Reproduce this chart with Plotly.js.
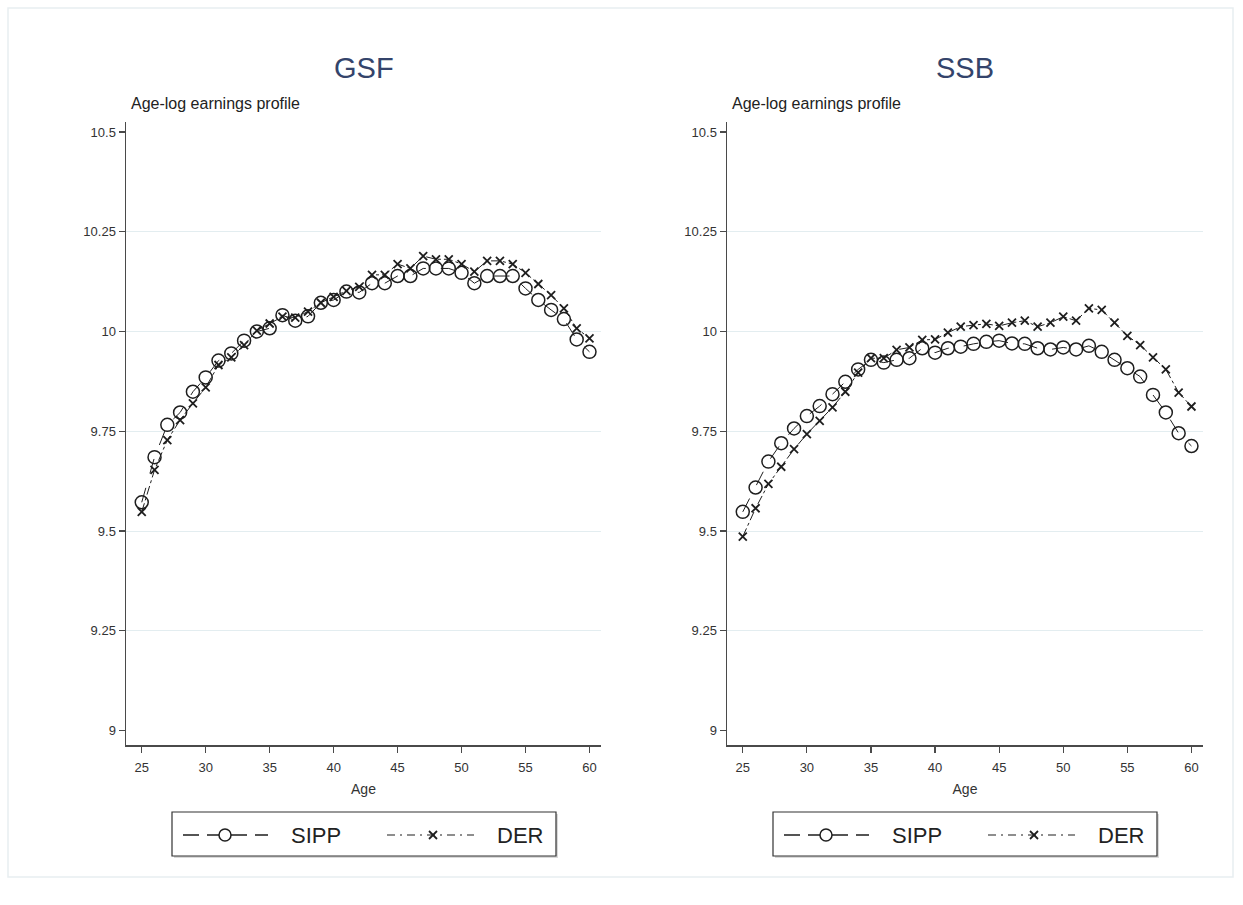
<!DOCTYPE html>
<html>
<head>
<meta charset="utf-8">
<script src="https://cdn.plot.ly/plotly-3.0.1.min.js"></script>
<style>
  html, body { margin: 0; padding: 0; background: #ffffff; }
  #chart { width: 1243px; height: 905px; }
</style>
</head>
<body>
<div id="chart"></div>
<script>
// ---- data ----
const ages = [25,26,27,28,29,30,31,32,33,34,35,36,37,38,39,40,41,42,
              43,44,45,46,47,48,49,50,51,52,53,54,55,56,57,58,59,60];

const gsfSIPP = [9.572,9.685,9.766,9.797,9.849,9.885,9.927,9.945,9.977,10.000,
                 10.008,10.041,10.027,10.038,10.072,10.079,10.100,10.098,
                 10.121,10.121,10.139,10.139,10.158,10.158,10.158,10.147,
                 10.121,10.139,10.139,10.139,10.108,10.079,10.054,10.031,
                 9.980,9.949];
const gsfDER  = [9.548,9.653,9.728,9.778,9.820,9.860,9.916,9.935,9.966,10.002,
                 10.020,10.037,10.035,10.050,10.072,10.087,10.102,10.112,
                 10.142,10.142,10.169,10.158,10.189,10.181,10.181,10.169,
                 10.150,10.177,10.177,10.169,10.147,10.119,10.091,10.058,
                 10.008,9.983];

const ssbSIPP = [9.548,9.609,9.674,9.720,9.757,9.788,9.813,9.843,9.874,9.905,
                 9.929,9.922,9.929,9.933,9.958,9.947,9.958,9.962,
                 9.969,9.974,9.977,9.970,9.969,9.958,9.955,9.960,
                 9.955,9.964,9.949,9.929,9.908,9.887,9.841,9.797,
                 9.745,9.713];
const ssbDER  = [9.486,9.557,9.618,9.661,9.705,9.743,9.776,9.810,9.849,9.897,
                 9.933,9.933,9.954,9.960,9.979,9.980,9.997,10.012,
                 10.016,10.019,10.014,10.022,10.027,10.012,10.022,10.037,
                 10.027,10.058,10.054,10.022,9.989,9.966,9.935,9.905,
                 9.847,9.812];

const panelTitles = ["GSF", "SSB"];
const seriesNames = ["SIPP", "DER"];
const yTitle = "Age-log earnings profile";
const xTitle = "Age";
const xTicks = [25,30,35,40,45,50,55,60];
const yTicks = [9, 9.25, 9.5, 9.75, 10, 10.25, 10.5];
const yTickText = ["9","9.25","9.5","9.75","10","10.25","10.5"];
const gridVals = [9.25, 9.5, 9.75, 10, 10.25];

// ---- styles ----
const FONT = "Liberation Sans, Arial, Helvetica, sans-serif";
const INK = "#1e1e1e";
const AXIS = "#4a4a4a";
const SIPP_DASH = "16px,8px";
const DER_DASH = "8px,5px,2px,5px";

function sippTrace(y, xa, ya) {
  return {
    x: ages, y: y, xaxis: xa, yaxis: ya, showlegend: false,
    name: seriesNames[0], type: "scatter", mode: "lines+markers",
    line: { color: INK, width: 1, dash: "longdash" },
    marker: { symbol: "circle-open", size: 13, color: INK, line: { width: 1.5, color: INK } }
  };
}
function derTrace(y, xa, ya) {
  return {
    x: ages, y: y, xaxis: xa, yaxis: ya, showlegend: false,
    name: seriesNames[1], type: "scatter", mode: "lines+markers",
    line: { color: INK, width: 1, dash: "dashdot" },
    marker: { symbol: "x-thin-open", size: 8, color: INK, line: { width: 1.8, color: INK } }
  };
}

const data = [
  sippTrace(gsfSIPP, "x", "y"),
  derTrace(gsfDER, "x", "y"),
  sippTrace(ssbSIPP, "x2", "y2"),
  derTrace(ssbDER, "x2", "y2")
];

const W = 1243, H = 905;
const px = v => v / W;
const py = v => 1 - v / H;
const xDomL = [px(126), px(601)];
const xDomR = [px(727), px(1203)];
const yDom = [py(745), py(122)];

function xAxis(dom, anchor) {
  return {
    domain: dom, anchor: anchor, range: [23.77, 60.9],
    tickmode: "array", tickvals: xTicks, ticktext: xTicks.map(String),
    ticks: "outside", ticklen: 6, tickwidth: 1.2, tickcolor: AXIS,
    ticklabelstandoff: 4,
    showline: true, linecolor: AXIS, linewidth: 1.5,
    showgrid: false, zeroline: false,
    tickfont: { family: FONT, size: 13, color: "#333" },
    title: { text: xTitle, font: { family: FONT, size: 14, color: "#333" }, standoff: 10 },
    fixedrange: true
  };
}
function yAxis(dom, anchor) {
  return {
    domain: dom, anchor: anchor, range: [8.9637, 10.525],
    tickmode: "array", tickvals: yTicks, ticktext: yTickText,
    ticks: "outside", ticklen: 6, tickwidth: 1.2, tickcolor: AXIS,
    showline: true, linecolor: AXIS, linewidth: 1.5,
    showgrid: false, zeroline: false,
    minor: { tickmode: "array", tickvals: gridVals, showgrid: true, gridcolor: "#e3edf0", gridwidth: 1, ticks: "" },
    tickfont: { family: FONT, size: 13, color: "#333" },
    fixedrange: true
  };
}

// ---- legend drawn as shapes + text, one per panel ----
function legendParts(x0) {
  // x0: left edge of the legend box in pixels
  const cy = 835;
  const shapes = [
    // soft shadow
    { type: "rect", xref: "paper", yref: "paper", x0: px(x0 + 2), x1: px(x0 + 386), y0: py(858), y1: py(814),
      line: { width: 0 }, fillcolor: "#d9d9d9", layer: "above" },
    // box
    { type: "rect", xref: "paper", yref: "paper", x0: px(x0), x1: px(x0 + 384), y0: py(856), y1: py(812),
      line: { color: "#333", width: 1.2 }, fillcolor: "#ffffff", layer: "above" },
    // SIPP sample line
    { type: "line", xref: "paper", yref: "paper", x0: px(x0 + 11), x1: px(x0 + 96), y0: py(cy), y1: py(cy),
      line: { color: INK, width: 1.3, dash: SIPP_DASH }, layer: "above" },
    // SIPP sample circle
    { type: "circle", xref: "paper", yref: "paper", x0: px(x0 + 47), x1: px(x0 + 59), y0: py(cy + 6), y1: py(cy - 6),
      line: { color: INK, width: 1.5 }, fillcolor: "#ffffff", layer: "above" },
    // DER sample line
    { type: "line", xref: "paper", yref: "paper", x0: px(x0 + 215), x1: px(x0 + 302), y0: py(cy), y1: py(cy),
      line: { color: INK, width: 1.1, dash: DER_DASH }, layer: "above" },
    // DER sample x
    { type: "line", xref: "paper", yref: "paper", x0: px(x0 + 257), x1: px(x0 + 265), y0: py(cy - 4), y1: py(cy + 4),
      line: { color: INK, width: 1.8 }, layer: "above" },
    { type: "line", xref: "paper", yref: "paper", x0: px(x0 + 257), x1: px(x0 + 265), y0: py(cy + 4), y1: py(cy - 4),
      line: { color: INK, width: 1.8 }, layer: "above" }
  ];
  const annotations = [
    { text: seriesNames[0], xref: "paper", yref: "paper", x: px(x0 + 117), y: py(cy),
      xanchor: "left", yanchor: "middle", showarrow: false,
      font: { family: FONT, size: 22, color: "#222" } },
    { text: seriesNames[1], xref: "paper", yref: "paper", x: px(x0 + 323), y: py(cy),
      xanchor: "left", yanchor: "middle", showarrow: false,
      font: { family: FONT, size: 22, color: "#222" } }
  ];
  return { shapes, annotations };
}

const legL = legendParts(172);
const legR = legendParts(773);

const layout = {
  width: W, height: H,
  margin: { l: 0, r: 0, t: 0, b: 0 },
  paper_bgcolor: "#ffffff", plot_bgcolor: "rgba(0,0,0,0)",
  showlegend: false,
  xaxis: xAxis(xDomL, "y"),
  yaxis: yAxis(yDom, "x"),
  xaxis2: xAxis(xDomR, "y2"),
  yaxis2: yAxis(yDom, "x2"),
  annotations: [
    { text: panelTitles[0], xref: "paper", yref: "paper", x: (xDomL[0] + xDomL[1]) / 2, y: py(68),
      xanchor: "center", yanchor: "middle", showarrow: false,
      font: { family: FONT, size: 29, color: "#34446b" } },
    { text: panelTitles[1], xref: "paper", yref: "paper", x: (xDomR[0] + xDomR[1]) / 2, y: py(68),
      xanchor: "center", yanchor: "middle", showarrow: false,
      font: { family: FONT, size: 29, color: "#34446b" } },
    { text: yTitle, xref: "paper", yref: "paper", x: px(129), y: py(103),
      xanchor: "left", yanchor: "middle", showarrow: false,
      font: { family: FONT, size: 16, color: "#222" } },
    { text: yTitle, xref: "paper", yref: "paper", x: px(730), y: py(103),
      xanchor: "left", yanchor: "middle", showarrow: false,
      font: { family: FONT, size: 16, color: "#222" } }
  ].concat(legL.annotations, legR.annotations),
  shapes: [
    { type: "rect", xref: "paper", yref: "paper", x0: px(8), x1: px(1233), y0: py(877), y1: py(8),
      line: { color: "#e8eef1", width: 1.5 }, fillcolor: "rgba(0,0,0,0)", layer: "below" }
  ].concat(legL.shapes, legR.shapes)
};

Plotly.newPlot("chart", data, layout, { displayModeBar: false, staticPlot: true });
</script>
</body>
</html>
